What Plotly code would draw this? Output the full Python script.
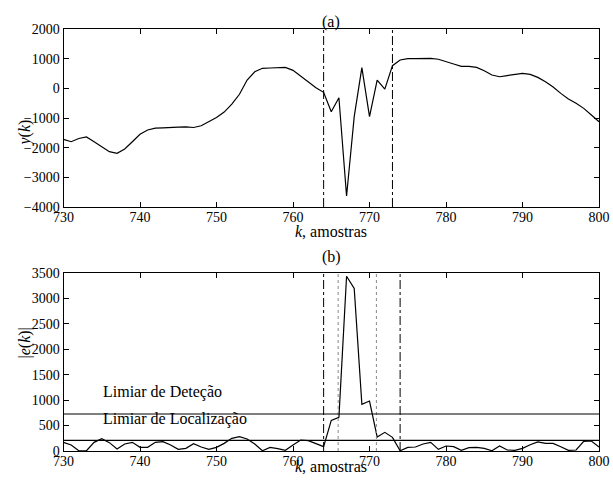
import plotly.graph_objects as go

k = list(range(730, 801))
y_vals = [-1720, -1800, -1690, -1640, -1800, -1970, -2135, -2190, -2045, -1800,
          -1550, -1405, -1340, -1330, -1330, -1305, -1300, -1320, -1260, -1125,
          -980, -800, -530, -200, 280, 560, 675, 685, 690, 705,
          605, 415, 200, 20, -135, -790, -315, -3630, -955, 695,
          -955, 280, -25, 765, 955, 1000, 1000, 1000, 1010, 980,
          910, 820, 740, 740, 705, 595, 450, 390, 430, 480,
          505, 470, 370, 225, 45, -170, -360, -505, -675, -900,
          -1125]
e_vals = [170, 118, 5, 5, 170, 242, 164, 39, 137, 170,
          72, 72, 170, 183, 118, 33, 52, 144, 78, 33,
          72, 150, 249, 281, 236, 137, 5, 72, 46, 13,
          118, 216, 203, 150, 85, 600, 660, 3430, 3193, 916,
          981, 275, 366, 268, 5, 72, 78, 137, 170, 33,
          98, 85, 13, 65, 72, 52, 5, 98, 20, 13,
          52, 124, 177, 150, 150, 85, 13, 20, 190, 196,
          78]

top_dashdot = [764, 773]
bot_dashdot = [764, 774]
bot_dotted = [765.9, 770.9]
det_thr = 726
loc_thr = 210

top_ticks_y = [2000, 1000, 0, -1000, -2000, -3000, -4000]
bot_ticks_y = [0, 500, 1000, 1500, 2000, 2500, 3000, 3500]
x_ticks = [730, 740, 750, 760, 770, 780, 790, 800]

FONT = "Liberation Serif"
fig = go.Figure()
fig.add_trace(go.Scatter(x=k, y=y_vals, mode="lines", line=dict(color="black", width=1.2),
                         xaxis="x", yaxis="y", showlegend=False))
fig.add_trace(go.Scatter(x=k, y=e_vals, mode="lines", line=dict(color="black", width=1.2),
                         xaxis="x2", yaxis="y2", showlegend=False))

shapes = []
for xv in top_dashdot:
    shapes.append(dict(type="line", xref="x", yref="y", x0=xv, x1=xv, y0=-4000, y1=2000,
                       line=dict(color="black", width=1, dash="dashdot")))
for xv in bot_dashdot:
    shapes.append(dict(type="line", xref="x2", yref="y2", x0=xv, x1=xv, y0=0, y1=3500,
                       line=dict(color="black", width=1, dash="dashdot")))
for xv in bot_dotted:
    shapes.append(dict(type="line", xref="x2", yref="y2", x0=xv, x1=xv, y0=0, y1=3500,
                       line=dict(color="#888888", width=1, dash="dot")))
for yv in [det_thr, loc_thr]:
    shapes.append(dict(type="line", xref="x2", yref="y2", x0=730, x1=800, y0=yv, y1=yv,
                       line=dict(color="black", width=1.2)))

axis_common = dict(showline=True, linecolor="black", linewidth=1, mirror="ticks",
                   ticks="inside", ticklen=5, tickcolor="black", showgrid=False,
                   zeroline=False, tickfont=dict(family=FONT, size=14, color="black"))

LBL = 16
fig.update_layout(
    width=613, height=485,
    margin=dict(l=0, r=0, t=0, b=0, autoexpand=False),
    paper_bgcolor="white", plot_bgcolor="white",
    font=dict(family=FONT, size=LBL, color="black"),
    xaxis=dict(domain=[0.1036, 0.9772], range=[730, 800], tickvals=x_ticks, anchor="y",
               ticklabelstandoff=-3, **axis_common),
    yaxis=dict(domain=[0.5732, 0.9402], range=[-4000, 2000], tickvals=top_ticks_y, anchor="x",
               tickformat="d", **axis_common),
    xaxis2=dict(domain=[0.1036, 0.9772], range=[730, 800], tickvals=x_ticks, anchor="y2",
                ticklabelstandoff=-3, **axis_common),
    yaxis2=dict(domain=[0.0701, 0.4377], range=[0, 3500], tickvals=bot_ticks_y, anchor="x2",
                tickformat="d", **axis_common),
    shapes=shapes,
    annotations=[
        dict(text="(a)", x=331, y=485 - 11, xref="paper", yref="paper", showarrow=False),
        dict(text="(b)", x=331, y=485 - 257, xref="paper", yref="paper", showarrow=False),
        dict(text="<i>k</i>, amostras", x=331, y=485 - 232, xref="paper", yref="paper", showarrow=False),
        dict(text="<i>k</i>, amostras", x=331, y=485 - 477, xref="paper", yref="paper", showarrow=False),
        dict(text="<i>y</i>(<i>k</i>)", x=13, y=485 - 118, xref="paper", yref="paper", showarrow=False,
             textangle=-90),
        dict(text="|<i>e</i>(<i>k</i>)|", x=13, y=485 - 361, xref="paper", yref="paper", showarrow=False,
             textangle=-90),
        dict(text="Limiar de Deteção", x=101, y=485 - 403, xref="paper", yref="paper", showarrow=False,
             xanchor="left"),
        dict(text="Limiar de Localização", x=101, y=485 - 430, xref="paper", yref="paper", showarrow=False,
             xanchor="left"),
    ],
)
for a in fig.layout.annotations:
    a.x = a.x / 613
    a.y = a.y / 485

fig.write_html("out.html", config={"displayModeBar": False},
               post_script="document.body.style.margin='0';")
